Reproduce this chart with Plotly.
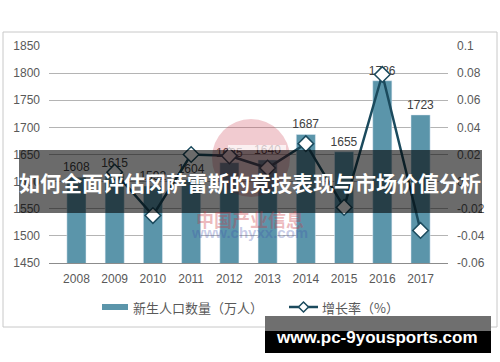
import plotly.graph_objects as go

years = ["2008", "2009", "2010", "2011", "2012", "2013", "2014", "2015", "2016", "2017"]
births = [1608, 1615, 1592, 1604, 1635, 1640, 1687, 1655, 1786, 1723]
growth = [None, 0.007, -0.025, 0.020, 0.019, 0.010, 0.028, -0.019, 0.079, -0.036]
left_ticks = [1450, 1500, 1550, 1600, 1650, 1700, 1750, 1800, 1850]
right_ticks = [-0.06, -0.04, -0.02, 0, 0.02, 0.04, 0.06, 0.08, 0.1]
right_labels = ["-0.06", "-0.04", "-0.02", "0", "0.02", "0.04", "0.06", "0.08", "0.1"]
bar_name = "新生人口数量（万人）"
line_name = "增长率（%）"
banner_text = "如何全面评估冈萨雷斯的竞技表现与市场价值分析"
site_text = "www.pc-9yousports.com"

W, H = 500, 362
L, R, T, B = 49, 448, 46, 263

def px(x):
    return (x - L) / (R - L)

def py(y):
    return (B - y) / (B - T)

BAR = "#5b95aa"
LINE = "#1b4a5d"
TXT = "#595959"
NUMFONT = "Liberation Sans, Arial, sans-serif"
CJK = "Noto Sans CJK SC, sans-serif"

fig = go.Figure()
fig.add_trace(go.Bar(
    x=years, y=births, marker_color=BAR, width=0.5,
    text=[str(v) for v in births], textposition="outside", constraintext="none",
    textfont=dict(size=12, color="#404040", family=NUMFONT),
    cliponaxis=False, name=bar_name, showlegend=False, hoverinfo="skip",
))
fig.add_trace(go.Scatter(
    x=years, y=growth, yaxis="y2", mode="lines+markers",
    line=dict(color=LINE, width=2.5),
    marker=dict(symbol="diamond", size=12, color="white", line=dict(color=LINE, width=1.5)),
    name=line_name, showlegend=False, cliponaxis=False, hoverinfo="skip",
))

shapes = []
shapes.append(dict(type="rect", xref="paper", yref="paper", x0=px(3), x1=px(497), y0=py(32), y1=py(327),
                   line=dict(color="#c8c8c8", width=1), fillcolor="rgba(0,0,0,0)", layer="below"))
shapes.append(dict(type="circle", xref="paper", yref="paper", x0=px(212), x1=px(290), y0=py(119), y1=py(197),
                   line=dict(width=0), fillcolor="rgba(205,70,85,0.28)", layer="above"))
shapes.append(dict(type="rect", xref="paper", yref="paper", x0=px(228), x1=px(286), y0=py(145), y1=py(150),
                   line=dict(width=0), fillcolor="rgba(255,255,255,0.7)", layer="above"))
shapes.append(dict(type="rect", xref="paper", yref="paper", x0=px(19), x1=px(482), y0=py(150), y1=py(213),
                   line=dict(width=0), fillcolor="rgba(0,0,0,0.58)", layer="above"))
shapes.append(dict(type="rect", xref="paper", yref="paper", x0=px(265), x1=px(491), y0=py(316), y1=py(331),
                   line=dict(width=0), fillcolor="#6f6f6f", layer="above"))
shapes.append(dict(type="rect", xref="paper", yref="paper", x0=px(265), x1=px(491), y0=py(331), y1=py(353),
                   line=dict(width=0), fillcolor="#000000", layer="above"))
shapes.append(dict(type="rect", xref="paper", yref="paper", x0=px(102), x1=px(128), y0=py(304), y1=py(310),
                   line=dict(width=0), fillcolor=BAR))
shapes.append(dict(type="line", xref="paper", yref="paper", x0=px(289), x1=px(318), y0=py(307), y1=py(307),
                   line=dict(color=LINE, width=2.5)))
dx, dy = 5 / (R - L), 5 / (B - T)
cx, cy = px(303.5), py(307)
shapes.append(dict(type="path", xref="paper", yref="paper",
                   path=f"M {cx-dx},{cy} L {cx},{cy+dy} L {cx+dx},{cy} L {cx},{cy-dy} Z",
                   line=dict(color=LINE, width=1.5), fillcolor="white"))

annotations = [
    dict(text="<b>" + banner_text + "</b>", xref="paper", yref="paper", x=px(250), y=py(182), showarrow=False,
         xanchor="center", yanchor="middle", font=dict(size=21, color="white", family=CJK)),
    dict(text="<b>" + site_text + "</b>", xref="paper", yref="paper", x=px(377), y=py(337), showarrow=False,
         xanchor="center", yanchor="middle", font=dict(size=17, color="white", family=NUMFONT)),
    dict(text="<b>中国产业信息</b>", xref="paper", yref="paper", x=px(250), y=py(219), showarrow=False,
         xanchor="center", yanchor="middle", font=dict(size=18, color="rgba(200,55,65,0.35)", family=CJK)),
    dict(text="<b>www.chyxx.com</b>", xref="paper", yref="paper", x=px(249), y=py(233), showarrow=False,
         xanchor="center", yanchor="middle", font=dict(size=15, color="rgba(60,80,170,0.3)", family=NUMFONT)),
    dict(text=bar_name, xref="paper", yref="paper", x=px(131), y=py(307), showarrow=False,
         xanchor="left", yanchor="middle", font=dict(size=13, color=TXT, family=CJK)),
    dict(text=line_name, xref="paper", yref="paper", x=px(320), y=py(307), showarrow=False,
         xanchor="left", yanchor="middle", font=dict(size=13, color=TXT, family=CJK)),
]

fig.update_layout(
    width=W, height=H,
    margin=dict(l=L, r=W - R, t=T, b=H - B, pad=0, autoexpand=False),
    paper_bgcolor="white", plot_bgcolor="white",
    bargap=0.5,
    hovermode=False,
    xaxis=dict(type="category", showgrid=False, showline=True, linecolor="#8c8c8c", linewidth=1,
               ticks="", tickfont=dict(size=12, color=TXT, family=NUMFONT), ticklabelstandoff=5,
               automargin=False, fixedrange=True),
    yaxis=dict(range=[1450, 1850], tickvals=left_ticks, showgrid=True, gridcolor="#b4b4b4", gridwidth=1,
               zeroline=False, showline=False, ticks="", automargin=False,
               tickfont=dict(size=12, color=TXT, family=NUMFONT), ticklabelstandoff=8),
    yaxis2=dict(range=[-0.06, 0.1], tickvals=right_ticks, ticktext=right_labels, overlaying="y", side="right",
                showgrid=False, zeroline=False, showline=False, ticks="", automargin=False,
                tickfont=dict(size=12, color=TXT, family=NUMFONT), ticklabelstandoff=8),
    shapes=shapes,
    annotations=annotations,
    showlegend=False,
)

fig.write_html("out.html", config={"displayModeBar": False},
               post_script="document.body.style.margin='0';document.body.style.overflow='hidden';")
